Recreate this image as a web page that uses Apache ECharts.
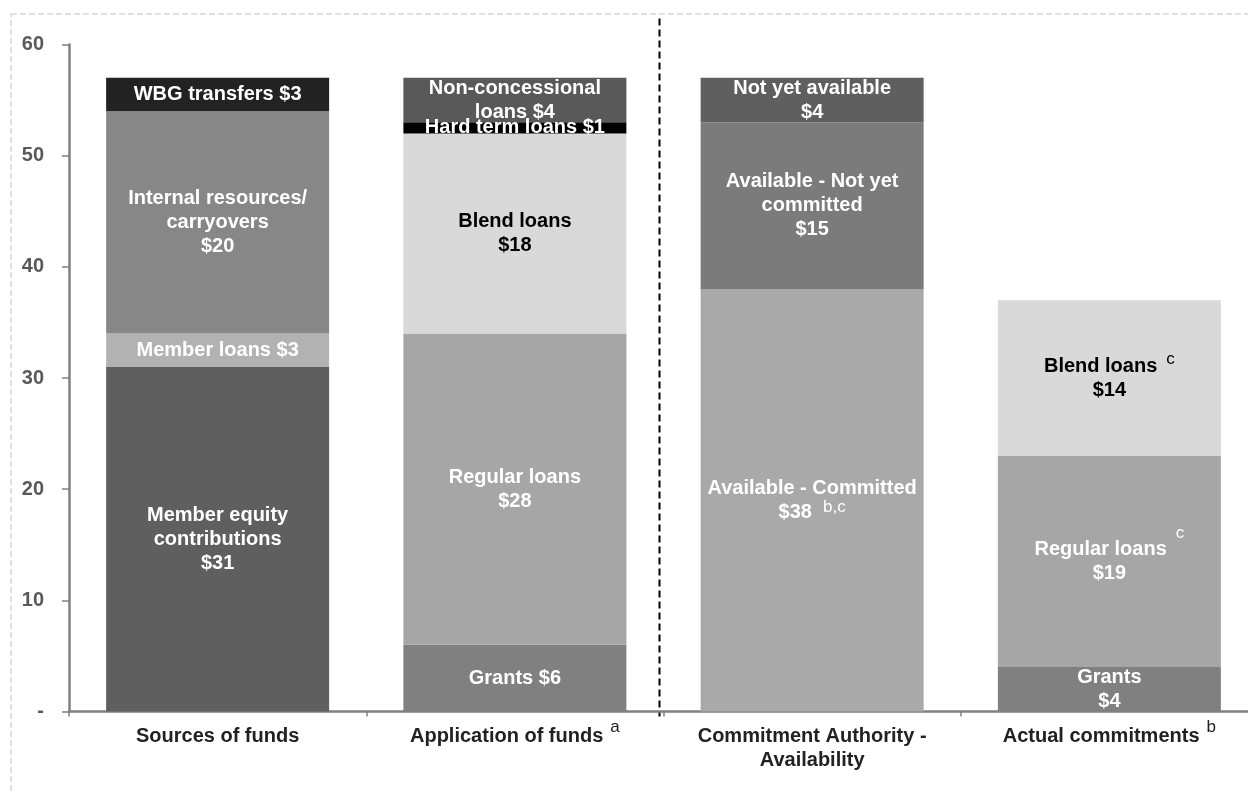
<!DOCTYPE html>
<html>
<head>
<meta charset="utf-8">
<title>Sources and application of funds</title>
<script src="https://cdn.jsdelivr.net/npm/echarts@6/dist/echarts.min.js"></script>
<style>
  html, body { margin: 0; padding: 0; background: #fff; }
  #chart { width: 1248px; height: 792px; }
</style>
</head>
<body>
<div id="chart"></div>
<script>
// categories and footnote letters
const categories = ['Sources of funds', 'Application of funds', 'Commitment Authority -\nAvailability', 'Actual commitments'];
const categorySup = ['', 'a', '', 'b'];
const yTickLabels = ['-', '10', '20', '30', '40', '50', '60'];

// segments, bottom to top
const sourcesValues = [31, 3, 20, 3];
const sourcesLabels = ['Member equity\ncontributions\n$31', 'Member loans $3', 'Internal resources/\ncarryovers\n$20', 'WBG transfers $3'];

const applicationValues = [6, 28, 18, 1, 4];
const applicationLabels = ['Grants $6', 'Regular loans\n$28', 'Blend loans\n$18', 'Hard term loans $1', 'Non-concessional\nloans $4'];

const availabilityValues = [38, 15, 4];
const availabilityLabels = ['Available - Committed\n$38{supLow|b,c}', 'Available - Not yet\ncommitted\n$15', 'Not yet available\n$4'];

const commitmentValues = [4, 19, 14];
const commitmentLabels = ['Grants\n$4', 'Regular loans{supHigh|c}\n$19', 'Blend loans{sup|c}\n$14'];

// fill colours per segment
const sourcesColors = ['#5f5f5f', '#b2b2b2', '#878787', '#222222'];
const applicationColors = ['#808080', '#a6a6a6', '#d9d9d9', '#000000', '#595959'];
const availabilityColors = ['#a9a9a9', '#7b7b7b', '#5f5f5f'];
const commitmentColors = ['#808080', '#a6a6a6', '#d9d9d9'];

const FONT = '"Liberation Sans", Arial, sans-serif';

// small raised footnote letter; bottom padding sets how high it sits
function supStyle(color, size, raise, gap) {
  return {
    fontSize: size, fontWeight: 'normal', color: color, fontFamily: FONT,
    verticalAlign: 'bottom', height: 1, lineHeight: 12, padding: [0, 0, raise, gap]
  };
}

const chart = echarts.init(document.getElementById('chart'));

const groups = [
  { values: sourcesValues, labels: sourcesLabels, colors: sourcesColors },
  { values: applicationValues, labels: applicationLabels, colors: applicationColors },
  { values: availabilityValues, labels: availabilityLabels, colors: availabilityColors },
  { values: commitmentValues, labels: commitmentLabels, colors: commitmentColors }
];

const series = [];
groups.forEach((g, ci) => {
  g.values.forEach((v, i) => {
    const textColor = g.colors[i] === '#d9d9d9' ? '#000' : '#fff';
    series.push({
      name: g.labels[i].replace(/\{[^}]*\}/g, '').replace(/\n/g, ' '),
      type: 'bar',
      stack: 'total',
      barWidth: 223,
      data: categories.map((c, k) => (k === ci ? v : '-')),
      itemStyle: { color: g.colors[i] },
      emphasis: { disabled: true },
      label: {
        show: true,
        position: 'inside',
        formatter: g.labels[i],
        color: textColor,
        fontFamily: FONT,
        fontSize: 20,
        fontWeight: 'bold',
        lineHeight: 24,
        rich: {
          sup: supStyle(textColor, 17, 18, 9),
          supLow: supStyle(textColor, 17, 16, 11),
          supHigh: supStyle(textColor, 17, 28, 9)
        }
      }
    });
  });
});

const option = {
  animation: false,
  grid: { left: 69, top: 44.5, width: 1189, height: 667, outerBoundsMode: 'none', containLabel: false },
  xAxis: {
    type: 'category',
    data: categories,
    axisLine: { lineStyle: { color: '#808080', width: 2.5 } },
    axisTick: { show: true, length: 5, lineStyle: { color: '#808080', width: 1.5 } },
    axisLabel: {
      margin: 13,
      color: '#222',
      fontFamily: FONT,
      fontSize: 20,
      fontWeight: 'bold',
      lineHeight: 24,
      interval: 0,
      formatter: (v, i) => (categorySup[i] ? v + '{sup|' + categorySup[i] + '}' : v),
      rich: {
        sup: supStyle('#222', 17, 21, 7)
      }
    }
  },
  yAxis: {
    type: 'value',
    min: 0,
    max: 60,
    interval: 10,
    splitLine: { show: false },
    axisLine: { show: true, lineStyle: { color: '#808080', width: 2.5 } },
    axisTick: { show: true, length: 7, lineStyle: { color: '#808080', width: 1.5 } },
    axisLabel: {
      margin: 25,
      color: '#595959',
      fontFamily: FONT,
      fontSize: 20,
      fontWeight: 'bold',
      formatter: v => yTickLabels[Math.round(v / 10)]
    }
  },
  series: series
};

chart.setOption(option);

// dashed outer frame and the divider between the two panels
const x1 = chart.convertToPixel({ xAxisIndex: 0 }, categories[1]);
const x2 = chart.convertToPixel({ xAxisIndex: 0 }, categories[2]);
const yTop = chart.convertToPixel({ yAxisIndex: 0 }, 60);
const yZero = chart.convertToPixel({ yAxisIndex: 0 }, 0);
const divX = (x1 + x2) / 2 - 4;

chart.setOption({
  graphic: [
    {
      type: 'rect',
      silent: true,
      shape: { x: 11, y: 14, width: 1400, height: 1000 },
      style: { fill: 'none', stroke: '#d6d6d6', lineWidth: 1.5, lineDash: [6, 3] }
    },
    {
      type: 'line',
      silent: true,
      shape: { x1: divX, y1: yTop - 26, x2: divX, y2: yZero + 5 },
      style: { stroke: '#000', lineWidth: 2, lineDash: [7, 4] }
    }
  ]
});
</script>
</body>
</html>
